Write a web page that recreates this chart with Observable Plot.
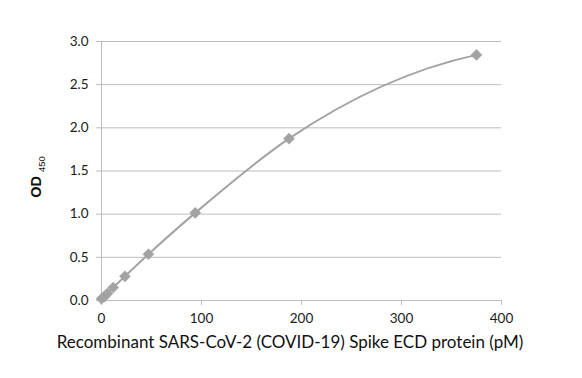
<!DOCTYPE html>
<html><head><meta charset="utf-8">
<script src="https://cdn.jsdelivr.net/npm/d3@7"></script>
<script src="https://cdn.jsdelivr.net/npm/@observablehq/plot@0.6"></script>
<style>
body{margin:0;background:#fff;}
#chart{width:582px;height:378px;}
</style></head>
<body><div id="chart"></div>
<script>
const concentration = [0, 2.93, 5.86, 11.72, 23.44, 46.88, 93.75, 187.5, 375];
const od450 = [0.02, 0.045, 0.08, 0.15, 0.28, 0.535, 1.015, 1.875, 2.845];
const xTicks = [0, 100, 200, 300, 400];
const yTicks = [0, 0.5, 1.0, 1.5, 2.0, 2.5, 3.0];
const xTitle = "Recombinant SARS-CoV-2 (COVID-19) Spike ECD protein (pM)";

const data = concentration.map((c, i) => ({c, od: od450[i]}));
const gray = "#a3a3a3";
const grid = "#bdbdbd";

// Smooth cubic Hermite curve in x with parabolic (Bessel) tangents, like a spreadsheet "smoothed line"
function curveParabolicX(context) {
  let pts;
  return {
    areaStart() {}, areaEnd() {},
    lineStart() { pts = []; },
    point(x, y) { pts.push([+x, +y]); },
    lineEnd() {
      const n = pts.length;
      if (!n) return;
      context.moveTo(pts[0][0], pts[0][1]);
      if (n === 1) return;
      const h = [], s = [], m = new Array(n);
      for (let i = 0; i < n - 1; i++) {
        h[i] = pts[i + 1][0] - pts[i][0];
        s[i] = (pts[i + 1][1] - pts[i][1]) / h[i];
      }
      if (n === 2) { m[0] = m[1] = s[0]; }
      else {
        for (let i = 1; i < n - 1; i++) m[i] = (s[i - 1] * h[i] + s[i] * h[i - 1]) / (h[i - 1] + h[i]);
        m[0] = 2 * s[0] - m[1];
        m[n - 1] = 2 * s[n - 2] - m[n - 2];
      }
      for (let i = 0; i < n - 1; i++) {
        const d = h[i] / 3;
        context.bezierCurveTo(pts[i][0] + d, pts[i][1] + m[i] * d,
                              pts[i + 1][0] - d, pts[i + 1][1] - m[i + 1] * d,
                              pts[i + 1][0], pts[i + 1][1]);
      }
    }
  };
}

const chart = Plot.plot({
  width: 582, height: 378,
  marginLeft: 101, marginRight: 81, marginTop: 41, marginBottom: 78,
  style: {fontSize: "13.5px", color: "#1a1a1a", fontFamily: "Lato, 'Open Sans', sans-serif", background: "#fff"},
  x: {domain: [0, 400], ticks: xTicks, label: null},
  y: {domain: [0, 3], ticks: yTicks, label: null},
  marks: [
    Plot.gridY(yTicks, {stroke: grid, strokeOpacity: 1, strokeWidth: 1}),
    Plot.ruleX([0], {stroke: grid, strokeWidth: 1}),
    Plot.ruleY([0], {stroke: grid, strokeWidth: 1}),
    Plot.axisX(xTicks, {tickSize: 5, stroke: grid, strokeOpacity: 1, text: null, label: null}),
    Plot.axisY(yTicks, {tickSize: 5, stroke: grid, strokeOpacity: 1, text: null, label: null}),
    Plot.axisX(xTicks, {tickSize: 0, tickPadding: 13, tickFormat: d => d, label: null}),
    Plot.axisY(yTicks, {tickSize: 0, tickPadding: 13, tickFormat: d => d.toFixed(1), label: null}),
    Plot.line(data, {x: "c", y: "od", stroke: gray, strokeWidth: 2, curve: curveParabolicX}),
    Plot.dot(data, {x: "c", y: "od", symbol: "diamond2", r: 5, fill: gray, stroke: gray, strokeWidth: 0.5})
  ]
});
document.getElementById("chart").appendChild(chart);

const svg = d3.select(chart);
svg.append("text")
  .attr("x", 290).attr("y", 348)
  .attr("text-anchor", "middle")
  .attr("font-family", "Lato, 'Open Sans', sans-serif")
  .attr("font-size", 17).attr("fill", "#111")
  .text(xTitle);
const yt = svg.append("text")
  .attr("transform", "translate(41,177) rotate(-90)")
  .attr("text-anchor", "middle")
  .attr("font-family", "'Liberation Sans', Arial, sans-serif")
  .attr("font-weight", "bold")
  .attr("font-size", 14.5).attr("fill", "#111");
yt.append("tspan").text("OD ");
yt.append("tspan").attr("font-size", 9.5).attr("font-weight", "normal").attr("dy", 4).text("450");
</script></body></html>
